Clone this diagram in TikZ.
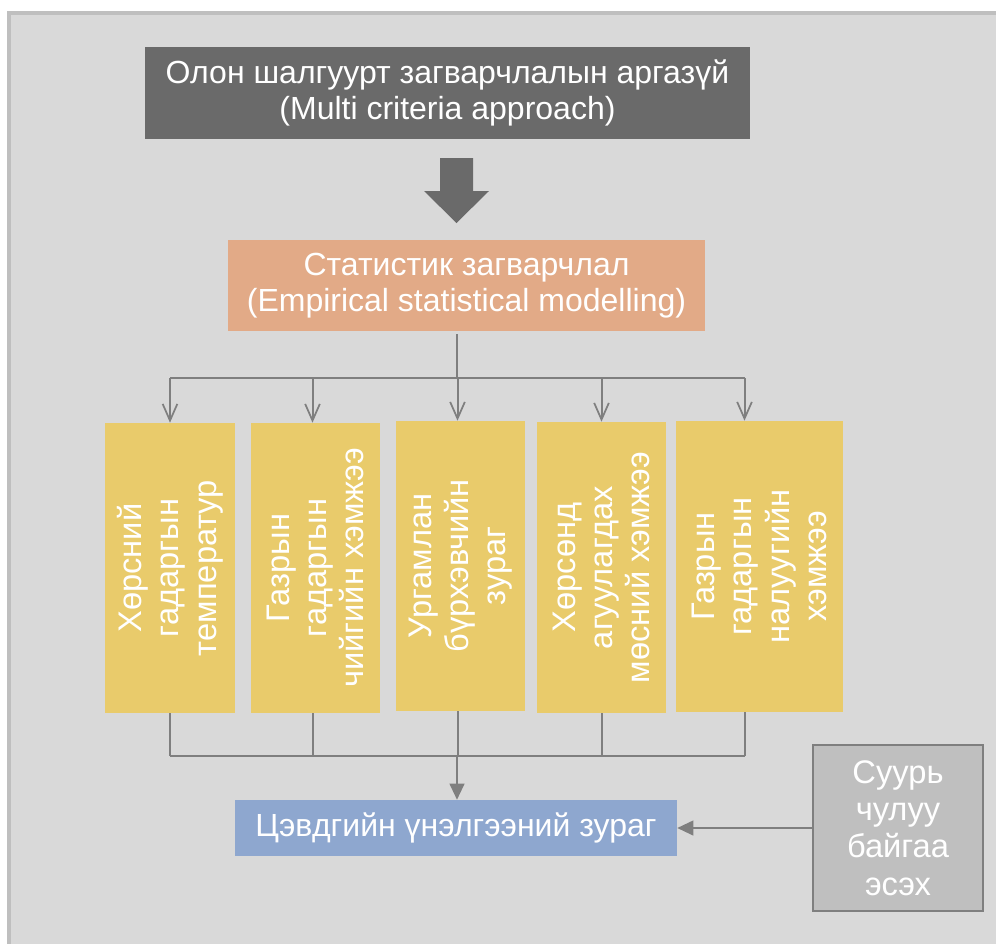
\documentclass[tikz,border=0pt]{standalone}
\usepackage{fontspec}
\setmainfont{Liberation Sans}
\usetikzlibrary{arrows.meta}
\newlength{\unitpx}
\setlength{\unitpx}{0.75pt}
\definecolor{panelfill}{HTML}{D9D9D9}
\definecolor{panelline}{HTML}{BFBFBF}
\definecolor{darkbox}{HTML}{6A6A6A}
\definecolor{orangebox}{HTML}{E2AA87}
\definecolor{yellowbox}{HTML}{E9CB6B}
\definecolor{bluebox}{HTML}{8EA7CF}
\definecolor{graybox}{HTML}{BFBFBF}
\definecolor{connline}{HTML}{7F7F7F}
\tikzset{
  box/.style={inner sep=0pt, align=center, text=white,
    font=\fontsize{24}{26.5}\selectfont},
  factor/.style={box, fill=yellowbox, rotate=90,
    minimum width=290\unitpx, minimum height=130\unitpx,
    font=\fontsize{24.5}{28}\selectfont},
  conn/.style={draw=connline, line width=1.5pt},
  openarr/.style={conn, -{Straight Barb[length=12.5pt, width=11pt, line width=1.3pt]}},
  fillarr/.style={conn, -{Triangle[length=12pt, width=11pt]}}
}
\begin{document}
\begin{tikzpicture}[x=\unitpx, y=-\unitpx]
    \useasboundingbox (0,0) rectangle (996,943);
    \draw[panelline, fill=panelfill, line width=2.5pt] (9,13) rectangle (1010,960);

    \node[box, fill=darkbox, minimum width=605\unitpx, minimum height=92\unitpx]
        (approach) at (447.5,93) {Олон шалгуурт загварчлалын аргазүй\\(Multi criteria approach)};
    \fill[darkbox] (440,158) -- (473,158) -- (473,191) -- (489,191) -- (456.5,223)
        -- (424,191) -- (440,191) -- cycle;
    \node[box, fill=orangebox, minimum width=477\unitpx, minimum height=91\unitpx]
        (statmodel) at (466.5,285.5) {Статистик загварчлал\\(Empirical statistical modelling)};

    \node[factor] (temp) at (170,568) {Хөрсний\\гадаргын\\температур};
    \node[factor, minimum height=129\unitpx] (moist) at (315.5,568) {Газрын\\гадаргын\\чийгийн хэмжээ};
    \node[factor, minimum height=129\unitpx] (veg) at (460.5,566) {Ургамлан\\бүрхэвчийн\\зураг};
    \node[factor, minimum height=129\unitpx, minimum width=291\unitpx] (ice) at (601.5,567.5) {Хөрсөнд\\агуулагдах\\мөсний хэмжээ};
    \node[factor, minimum height=167\unitpx, minimum width=291\unitpx] (slope) at (759.5,566.5) {Газрын\\гадаргын\\налуугийн\\хэмжээ};

    \node[box, fill=bluebox, minimum width=442\unitpx, minimum height=56\unitpx]
        (permamap) at (456,828) {Цэвдгийн үнэлгээний зураг};
    \node[box, fill=graybox, draw=connline, line width=1.5pt, minimum width=170\unitpx,
        minimum height=166\unitpx, font=\fontsize{24.5}{28}\selectfont]
        (bedrock) at (898,828) {Суурь\\чулуу\\байгаа\\эсэх};

    \coordinate (split) at (457,378);
    \coordinate (join) at (457,756);
    \foreach \b/\dx in {temp/0,moist/-3,veg/-3,ice/0,slope/-15} {
        \coordinate (\b-in) at ([xshift=\dx\unitpx]\b.east);
        \coordinate (\b-out) at ([xshift=\dx\unitpx]\b.west);
        \draw[openarr] (split -| \b-in) -- (\b-in);
        \draw[conn] (\b-out) -- (join -| \b-out);
    }
    \draw[conn] ([yshift=-3\unitpx]split |- statmodel.south) -- (split);
    \draw[conn] (split -| temp-in) -- (split -| slope-in);
    \draw[conn] (join -| temp-out) -- (join -| slope-out);
    \draw[fillarr] (join) -- (join |- permamap.north);
    \draw[fillarr] (bedrock.west) -- (permamap.east);
\end{tikzpicture}
\end{document}
